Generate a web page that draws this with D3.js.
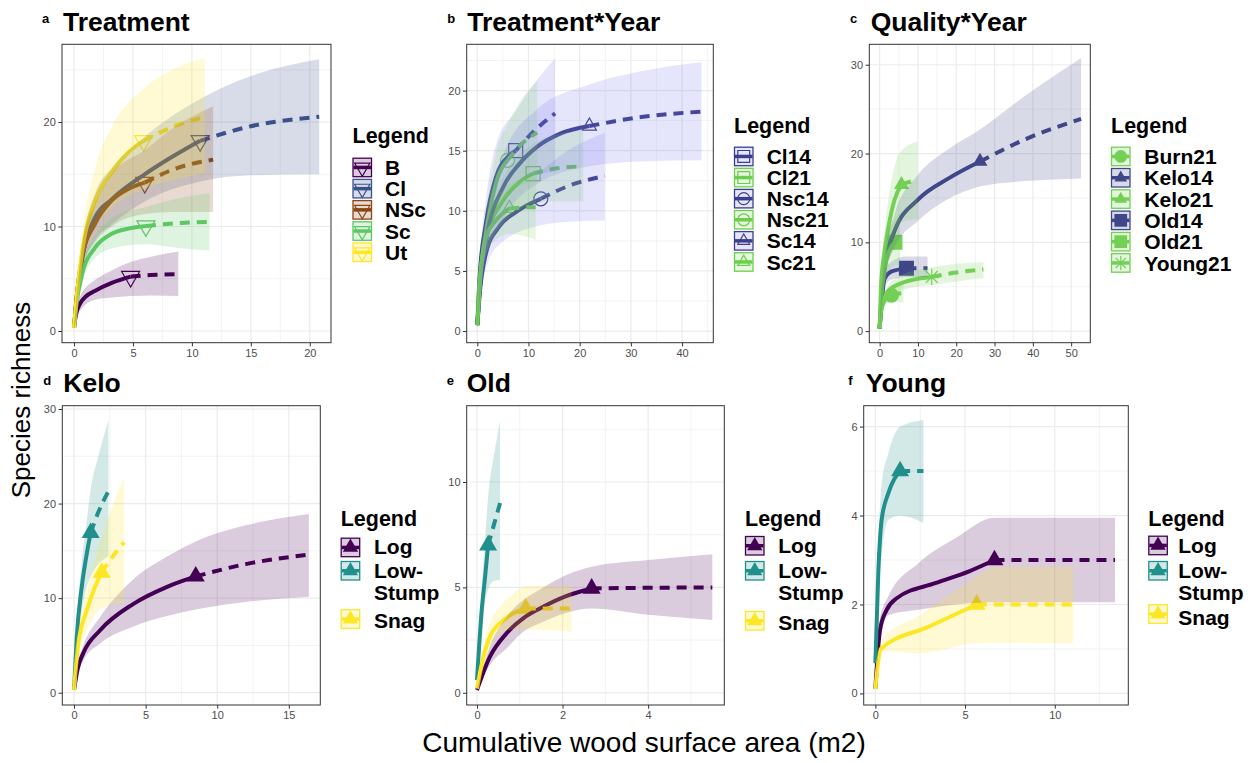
<!DOCTYPE html>
<html>
<head>
<meta charset="utf-8">
<script src="https://cdn.jsdelivr.net/npm/d3@7"></script>
<style>
  body { margin: 0; background: #fff; }
  svg { font-family: "Liberation Sans", Arial, Helvetica, sans-serif; }
</style>
</head>
<body>
<svg id="fig" width="1253" height="763"></svg>
<script>
// ---------- data: [x, y] and ribbons [x, lower, upper] ----------

// a  Treatment
var treatmentNames = ["B", "Cl", "NSc", "Sc", "Ut"];
var treatmentSeries = [
  {interp: [[0,0.3],[0.15,1.5],[0.5,2.6],[1,3.3],[1.8,3.85],[3.2,4.6],[4.8,5.2]],
   extrap: [[4.8,5.2],[6.5,5.35],[8.85,5.45]],
   ci: [[0,0.2,0.4],[0.5,1.9,3.3],[1.8,3.0,4.9],[3.2,3.2,5.8],[4.8,3.35,6.6],[6.5,3.4,7.1],[8.85,3.35,7.6]]},
  {interp: [[0,0.3],[0.2,3],[0.7,7.0],[1.8,10.9],[3.2,12.6],[6,15.0],[7.5,16.1],[10.7,18.2]],
   extrap: [[10.7,18.2],[15,19.6],[20.8,20.5]],
   ci: [[0,0.2,0.4],[0.7,5.8,8.3],[1.8,8.7,13.2],[3.2,10.2,15.6],[6,12.4,18.6],[10.7,14.3,22.2],[15,14.9,24.4],[20.8,15,26]]},
  {interp: [[0,0.3],[0.2,3],[0.7,7.1],[1.8,10.3],[3.2,12.5],[4.6,13.6],[6.0,14.2]],
   extrap: [[6.0,14.2],[8.5,15.5],[11.8,16.4]],
   ci: [[0,0.2,0.4],[0.7,6,8.3],[1.8,8.5,12.2],[3.2,10,15],[6,11.2,17.3],[8.5,11.4,19.5],[11.8,11.4,21.5]]},
  {interp: [[0,0.3],[0.2,2.5],[0.7,5.5],[1.8,8.0],[3.2,9.3],[4.6,9.8],[6.1,10.05]],
   extrap: [[6.1,10.05],[8.5,10.3],[11.5,10.45]],
   ci: [[0,0.2,0.4],[0.7,4.6,6.4],[1.8,7.0,9.2],[3.2,7.9,10.8],[6.1,8.3,11.9],[8.5,8.0,12.6],[11.5,7.7,13.2]]},
  {interp: [[0,0.3],[0.25,3.5],[0.7,7.7],[1.8,12.5],[3.2,15.2],[4.6,17.1],[5.9,18.2]],
   extrap: [[5.9,18.2],[8.5,19.6],[11.1,20.5]],
   ci: [[0,0.2,0.4],[0.7,6.3,9.3],[1.8,9.8,15.6],[3.2,11.8,19.5],[5.9,13.6,23.2],[8.5,14.5,25.1],[11.1,15.1,26.1]]}
];
var treatmentTicksX = [0, 5, 10, 15, 20];
var treatmentTicksY = [0, 10, 20];

// b  Treatment*Year
var treatYearNames = ["Cl14", "Cl21", "Nsc14", "Nsc21", "Sc14", "Sc21"];
var treatYearSeries = [
  {interp: [[0,0.5],[0.4,4.2],[1.7,9.0],[3.65,12.8],[6.25,14.6],[7.5,15.0]],
   extrap: [[7.5,15],[11,16.6],[15.2,18.1]],
   ci: [[0,0.3,0.7],[0.4,3.5,5],[1.7,7.2,11],[3.65,10,15.5],[7.5,12.2,18.3],[11,12.9,20.5],[15.2,13.3,22.7]]},
  {interp: [[0,0.5],[0.4,3.5],[1.7,7.6],[5.1,10.9],[8.3,12.4],[10.9,13.1]],
   extrap: [[10.9,13.1],[15,13.5],[20.7,13.7]],
   ci: [[0,0.3,0.7],[0.4,2.8,4.3],[1.7,6.3,9],[5.1,9,12.8],[10.9,10.6,15.6],[15,10.8,16.3],[20.7,10.8,16.7]]},
  {interp: [[0,0.5],[0.4,2.8],[1.7,6.5],[4.3,8.7],[7.55,9.9],[12.4,11.0]],
   extrap: [[12.4,11],[18,12.1],[24.9,12.9]],
   ci: [[0,0.3,0.7],[0.4,2.2,3.5],[1.7,5.2,7.9],[4.3,7.2,10.3],[12.4,8.8,13.3],[18,9.1,15.1],[24.9,9.2,16.5]]},
  {interp: [[0,0.5],[0.4,3.7],[1.7,8.1],[3.65,12.3],[5.9,14.2]],
   extrap: [[5.9,14.2],[8.5,15.5],[11.7,16.5]],
   ci: [[0,0.3,0.7],[0.4,3,4.5],[1.7,6.5,9.8],[3.65,9.8,14.8],[5.9,11.4,17.2],[8.5,12.1,19.2],[11.7,12.4,20.8]]},
  {interp: [[0,0.5],[0.5,3.5],[1.7,7.5],[5.1,12.0],[8,13.8],[11.6,15.3],[16.1,16.4],[21.9,17.05]],
   extrap: [[21.9,17.05],[32,17.8],[43.8,18.25]],
   ci: [[0,0.3,0.7],[0.5,2.8,4.3],[1.7,5.8,9.3],[5.1,9.3,14.7],[11.6,12.2,18.4],[21.9,13.7,20.5],[32,14.1,21.6],[43.8,14.2,22.35]]},
  {interp: [[0,0.5],[0.4,3.2],[1.7,7.8],[3.65,9.2],[6.25,10.2]],
   extrap: [[6.25,10.2],[8.5,10.27],[11.4,10.3]],
   ci: [[0,0.3,0.7],[0.4,2.6,3.8],[1.7,6.3,9.3],[3.65,7.6,10.9],[6.25,8.1,12.2],[11.4,7.6,12.9]]}
];
var treatYearTicksX = [0, 10, 20, 30, 40];
var treatYearTicksY = [0, 5, 10, 15, 20];

// c  Quality*Year
var qualityNames = ["Burn21", "Kelo14", "Kelo21", "Old14", "Old21", "Young21"];
var qualitySeries = [
  {interp: [[0,0.3],[0.3,2.0],[1,3.2],[2,3.7],[3.1,4.05]],
   extrap: [[3.1,4.05],[4.5,4.2],[6.2,4.3]],
   ci: [[0,0.2,0.4],[0.3,1.5,2.5],[1,2.6,3.8],[3.1,3.3,4.8],[6.2,3.2,5.4]]},
  {interp: [[0,0.3],[0.43,3.5],[1.3,7.2],[3.9,11.3],[10,14.8],[18,17.2],[26.2,19.1]],
   extrap: [[26.2,19.1],[38,21.6],[52.6,23.9]],
   ci: [[0,0.2,0.4],[0.43,2.6,4.4],[1.3,5.8,8.6],[3.9,9.4,13.2],[10,12.4,17.6],[18,14.9,20.5],[26.2,16.3,22.7],[38,16.9,26.5],[52.6,17.2,30.75]]},
  {interp: [[0,0.3],[0.4,5.4],[1.3,9.0],[2.2,11.5],[3.9,14.8],[5.7,16.5]],
   extrap: [[5.7,16.5],[7.7,16.8],[9.9,17.0]],
   ci: [[0,0.2,0.4],[0.4,4,6.8],[1.3,6.8,11.4],[2.2,8.5,14.6],[3.9,11,18.6],[5.7,12.3,20.3],[9.9,12.6,21.35]]},
  {interp: [[0,0.3],[0.42,2.7],[1.3,5.9],[3.0,6.7],[7.0,7.07]],
   extrap: [[7,7.07],[12.5,7.07]],
   ci: [[0,0.2,0.4],[0.42,2.1,3.3],[1.3,5,6.9],[3,5.8,7.8],[7,6.1,8.4],[12.5,6.1,8.4]]},
  {interp: [[0,0.3],[0.4,3.5],[1.3,7.0],[2.5,9.0],[4.0,10.0]],
   extrap: [[4.0,10.0],[5.3,10.3]],
   ci: [[0,0.2,0.4],[0.4,2.6,4.4],[1.3,5.3,8.7],[2.5,6.8,11.2],[4,7.4,12.6],[5.3,7.4,13.3]]},
  {interp: [[0,0.3],[0.4,2.5],[1,3.4],[2.2,4.5],[5.7,5.4],[10,5.9],[13.6,6.1]],
   extrap: [[13.6,6.1],[20,6.6],[27.1,6.95]],
   ci: [[0,0.2,0.4],[0.4,2,3],[1,2.9,3.9],[2.2,3.9,5.1],[5.7,4.6,6.3],[13.6,5.2,7.2],[20,5.6,7.6],[27.1,5.95,7.8]]}
];
var qualityTicksX = [0, 10, 20, 30, 40, 50];
var qualityTicksY = [0, 10, 20, 30];

// d-f  position types
var positionNames = ["Log", "Low-\nStump", "Snag"];

var keloSeries = [
  {interp: [[0,0.3],[0.25,2.5],[0.65,4.2],[1.82,6.6],[4.15,9.4],[6.5,11.2],[8.5,12.3]],
   extrap: [[8.5,12.3],[12,13.6],[16.4,14.6]],
   ci: [[0,0.2,0.4],[0.25,1.9,3.1],[0.65,3.4,5.0],[1.82,5.2,8.0],[4.15,7.0,12.0],[6.5,8.1,14.4],[8.5,8.8,16.0],[12,9.6,17.7],[16.4,10.15,18.9]]},
  {interp: [[0,0.3],[0.19,5.9],[0.54,11.2],[0.89,14.7],[1.16,16.9]],
   extrap: [[1.16,16.9],[1.7,19.1],[2.4,21.3]],
   ci: [[0,0.2,0.4],[0.19,4.6,7.2],[0.54,8.6,13.8],[0.89,11.2,18.2],[1.16,12.3,21.5],[1.7,13.6,25],[2.4,14.4,28.8]]},
  {interp: [[0,0.3],[0.3,5.2],[0.89,8.7],[1.47,11.2],[1.93,12.7]],
   extrap: [[1.93,12.7],[2.7,14.4],[3.5,15.9]],
   ci: [[0,0.2,0.4],[0.3,4.1,6.4],[0.89,6.6,10.8],[1.47,8.3,14.2],[1.93,8.9,16.5],[2.7,9.3,19.8],[3.5,9.45,22.8]]}
];
var keloTicksX = [0, 5, 10, 15];
var keloTicksY = [0, 10, 20, 30];

var oldSeries = [
  {interp: [[0,0.13],[0.3,1.7],[0.69,2.82],[1.08,3.53],[1.47,4.0],[2.1,4.6],[2.68,4.95]],
   extrap: [[2.68,4.95],[4,4.98],[5.5,5.0]],
   ci: [[0,0.1,0.2],[0.3,1.3,2.2],[0.69,2.1,3.6],[1.08,2.9,4.4],[1.47,3.3,4.9],[2.1,3.8,5.6],[2.68,4.0,5.98],[4,3.7,6.3],[5.5,3.45,6.57]]},
  {interp: [[0,0.6],[0.11,3.9],[0.19,5.5],[0.26,7.0]],
   extrap: [[0.26,7.0],[0.4,8.0],[0.54,9.0]],
   ci: [[0,0.5,0.8],[0.11,2.7,5.0],[0.19,4.3,7.3],[0.26,4.9,9.3],[0.4,5.3,11.3],[0.54,5.35,12.9]]},
  {interp: [[0,0.2],[0.15,1.7],[0.3,2.66],[0.54,3.3],[0.85,3.77],[1.14,4.0]],
   extrap: [[1.14,4.0],[1.7,4.0],[2.21,4.0]],
   ci: [[0,0.1,0.3],[0.15,1.2,2.3],[0.3,2.1,3.3],[0.54,2.8,4.1],[0.85,3.0,4.7],[1.14,3.0,5.06],[2.21,2.9,5.06]]}
];
var oldTicksX = [0, 2, 4];
var oldTicksY = [0, 5, 10];

var youngSeries = [
  {interp: [[0,0.11],[0.26,1.43],[0.63,1.88],[1.19,2.14],[3.33,2.48],[5.19,2.74],[6.64,3.0]],
   extrap: [[6.64,3.0],[10,3.0],[13.36,3.0]],
   ci: [[0,0.1,0.12],[0.26,1.2,1.7],[0.72,1.76,2.18],[2.4,1.88,2.93],[4.5,2.0,3.5],[6.64,2.05,3.95],[13.36,2.05,3.95]]},
  {interp: [[0,0.68],[0.17,2.78],[0.35,3.9],[0.72,4.5],[1.38,5.0]],
   extrap: [[1.38,5.0],[2.68,5.0]],
   ci: [[0,0.6,0.75],[0.17,2.2,3.4],[0.35,3.1,4.7],[0.72,3.9,5.4],[1.38,4.0,6.0],[2.68,3.83,6.15]]},
  {interp: [[0,0.1],[0.3,1.0],[2.97,1.5],[5.65,2.0]],
   extrap: [[5.65,2.0],[11.04,2.0]],
   ci: [[0,0.1,0.12],[0.35,0.95,1.2],[2.4,0.9,1.74],[5.56,1.13,2.6],[6.67,1.14,2.85],[11.04,1.13,2.85]]}
];
var youngTicksX = [0, 5, 10];
var youngTicksY = [0, 2, 4, 6];

// ---------- drawing ----------
var svg = d3.select("#fig");
var defs = svg.append("defs");

var viridis5 = ["#440154", "#3B528B", "#8B4513", "#5DC863", "#FDE725"];
var posCols = ["#440154", "#21908C", "#FDE725"];

function minorTicks(ticks, domain) {
  var step = ticks[1] - ticks[0];
  return d3.range(ticks[0] - step / 2, domain[1], step).filter(function(d) { return d > domain[0]; });
}

function shapeNode(sel, kind, cx, cy, size, color, filled) {
  if (kind === "star") {
    var r = size * 0.55, k = r * 0.72;
    return sel.append("path")
      .attr("d", "M" + (-r) + ",0H" + r + "M0," + (-r) + "V" + r +
                 "M" + (-k) + "," + (-k) + "L" + k + "," + k + "M" + (-k) + "," + k + "L" + k + "," + (-k))
      .attr("transform", "translate(" + cx + "," + cy + ")")
      .attr("fill", "none").attr("stroke", color).attr("stroke-width", 1.2);
  }
  var type = {tri: d3.symbolTriangle, triDown: d3.symbolTriangle, square: d3.symbolSquare, circle: d3.symbolCircle}[kind];
  var area = {tri: size * size * 0.433, triDown: size * size * 0.433, square: size * size, circle: Math.PI * size * size / 4}[kind];
  return sel.append("path")
    .attr("d", d3.symbol(type, area)())
    .attr("transform", "translate(" + cx + "," + cy + ")" + (kind === "triDown" ? " rotate(180)" : ""))
    .attr("fill", filled ? color : "none")
    .attr("stroke", color)
    .attr("stroke-width", filled ? 0 : 1.2);
}

function drawPanel(p) {
  var x0 = p.box[0], x1 = p.box[1], y0 = p.box[2], y1 = p.box[3];
  var x = d3.scaleLinear().domain(p.xDomain).range([x0, x1]);
  var y = d3.scaleLinear().domain(p.yDomain).range([y1, y0]);
  var g = svg.append("g");

  g.append("rect").attr("x", x0).attr("y", y0).attr("width", x1 - x0).attr("height", y1 - y0).attr("fill", "#fff");

  // grid
  var grid = g.append("g").attr("stroke", "#EBEBEB");
  grid.selectAll(".vx").data(minorTicks(p.xTicks, p.xDomain)).enter().append("line")
    .attr("x1", x).attr("x2", x).attr("y1", y0).attr("y2", y1).attr("stroke-width", 0.6);
  grid.selectAll(".hy").data(minorTicks(p.yTicks, p.yDomain)).enter().append("line")
    .attr("y1", y).attr("y2", y).attr("x1", x0).attr("x2", x1).attr("stroke-width", 0.6);
  grid.selectAll(".vX").data(p.xTicks).enter().append("line")
    .attr("x1", x).attr("x2", x).attr("y1", y0).attr("y2", y1).attr("stroke-width", 1.2);
  grid.selectAll(".hY").data(p.yTicks).enter().append("line")
    .attr("y1", y).attr("y2", y).attr("x1", x0).attr("x2", x1).attr("stroke-width", 1.2);

  var clipId = "clip-" + p.tag;
  defs.append("clipPath").attr("id", clipId).append("rect")
    .attr("x", x0).attr("y", y0).attr("width", x1 - x0).attr("height", y1 - y0);
  var plot = g.append("g").attr("clip-path", "url(#" + clipId + ")");

  var curve = d3.curveMonotoneX;
  var line = d3.line().x(function(d) { return x(d[0]); }).y(function(d) { return y(d[1]); }).curve(curve);
  var band = d3.area().x(function(d) { return x(d[0]); })
    .y0(function(d) { return y(d[1]); }).y1(function(d) { return y(d[2]); }).curve(curve);

  // observed points
  p.series.forEach(function(s, i) {
    var o = s.interp[s.interp.length - 1];
    shapeNode(plot, p.shapes[i], x(o[0]), y(o[1]), p.shapeSize, p.colors[i], p.filled);
  });
  // curves
  p.series.forEach(function(s, i) {
    plot.append("path").attr("d", line(s.interp)).attr("fill", "none")
      .attr("stroke", p.colors[i]).attr("stroke-width", 4);
    plot.append("path").attr("d", line(s.extrap)).attr("fill", "none")
      .attr("stroke", p.colors[i]).attr("stroke-width", 4).attr("stroke-dasharray", "10,7");
  });
  // confidence bands on top
  p.series.forEach(function(s, i) {
    plot.append("path").attr("d", band(s.ci))
      .attr("fill", p.fills[i]).attr("fill-opacity", p.alpha);
  });

  g.append("rect").attr("x", x0).attr("y", y0).attr("width", x1 - x0).attr("height", y1 - y0)
    .attr("fill", "none").attr("stroke", "#333333").attr("stroke-width", 1);

  // axes
  var fmt = d3.format("d");
  var ax = g.append("g").attr("transform", "translate(0," + y1 + ")")
    .call(d3.axisBottom(x).tickValues(p.xTicks).tickFormat(fmt).tickSize(3.7).tickPadding(2.5));
  var ay = g.append("g").attr("transform", "translate(" + x0 + ",0)")
    .call(d3.axisLeft(y).tickValues(p.yTicks).tickFormat(fmt).tickSize(3.7).tickPadding(2.5));
  [ax, ay].forEach(function(a) {
    a.select(".domain").remove();
    a.selectAll(".tick line").attr("stroke", "#333333");
    a.selectAll(".tick text").attr("fill", "#4D4D4D").style("font-size", "11px")
      .style("font-family", "'Liberation Sans', Arial, sans-serif");
  });

  // title and tag
  g.append("text").attr("x", p.tagPos[0]).attr("y", p.tagPos[1]).text(p.tag)
    .style("font-size", "13px").style("font-weight", "bold");
  g.append("text").attr("x", p.titlePos[0]).attr("y", p.titlePos[1]).text(p.title)
    .style("font-size", "26.5px").style("font-weight", "bold");

  // legend
  var L = p.legend;
  g.append("text").attr("x", L.x).attr("y", L.titleY).text("Legend")
    .style("font-size", "21.5px").style("font-weight", "bold");
  p.names.forEach(function(name, i) {
    var ky = L.keys[i], ks = 19.5;
    var k = g.append("g");
    k.append("rect").attr("x", L.x + 0.5).attr("y", ky + 0.5).attr("width", ks - 1).attr("height", ks - 1)
      .attr("fill", "#fff");
    k.append("rect").attr("x", L.x + 0.5).attr("y", ky + 0.5).attr("width", ks - 1).attr("height", ks - 1)
      .attr("fill", p.fills[i]).attr("fill-opacity", p.alpha)
      .attr("stroke", p.colors[i]).attr("stroke-width", 1.3);
    k.append("line").attr("x1", L.x + 1).attr("x2", L.x + ks - 1).attr("y1", ky + ks / 2).attr("y2", ky + ks / 2)
      .attr("stroke", p.colors[i]).attr("stroke-width", 3.5);
    shapeNode(k, p.shapes[i], L.x + ks / 2, ky + ks / 2, p.shapeSize * 0.85, p.colors[i], p.filled);
    name.split("\n").forEach(function(part, j) {
      g.append("text").attr("x", L.labelX).attr("y", L.labelY[i] + j * 22).text(part)
        .style("font-size", "21px").style("font-weight", "bold");
    });
  });
}

var c14b = "#3E3E8E", c21b = "#6BCF4D";
var c14c = "#404788", c21c = "#73D055";

var panels = [
  {tag: "a", title: "Treatment", tagPos: [42, 23], titlePos: [63, 30.7],
   box: [62, 331, 44.3, 342.7], xDomain: [-1.02, 21.8], yDomain: [-1.12, 27.44],
   xTicks: treatmentTicksX, yTicks: treatmentTicksY,
   series: treatmentSeries, names: treatmentNames,
   colors: viridis5, fills: viridis5, alpha: 0.2,
   shapes: ["triDown", "triDown", "triDown", "triDown", "triDown"], shapeSize: 18, filled: false,
   legend: {x: 352.5, titleY: 143, labelX: 385,
            keys: [157.7, 178.9, 200.1, 221.3, 242.5], labelY: [175, 196.2, 217.4, 238.6, 259.8]}},
  {tag: "b", title: "Treatment*Year", tagPos: [447.3, 23], titlePos: [467.3, 30.7],
   box: [466.7, 713.3, 44.3, 342.7], xDomain: [-2.07, 46.1], yDomain: [-0.97, 23.85],
   xTicks: treatYearTicksX, yTicks: treatYearTicksY,
   series: treatYearSeries, names: treatYearNames,
   colors: [c14b, c21b, c14b, c21b, c14b, c21b],
   fills: ["#6E6EF0", "#7AD151", "#6E6EF0", "#7AD151", "#6E6EF0", "#7AD151"], alpha: 0.18,
   shapes: ["square", "square", "circle", "circle", "tri", "tri"], shapeSize: 14, filled: false,
   legend: {x: 734, titleY: 132.7, labelX: 766.7,
            keys: [146.7, 167.8, 188.9, 210, 231.1, 252.2], labelY: [164, 185.1, 206.2, 227.3, 248.4, 269.5]}},
  {tag: "c", title: "Quality*Year", tagPos: [850, 23], titlePos: [870.7, 30.7],
   box: [869.3, 1090.3, 44.3, 342.7], xDomain: [-2.7, 55.0], yDomain: [-1.3, 32.3],
   xTicks: qualityTicksX, yTicks: qualityTicksY,
   series: qualitySeries, names: qualityNames,
   colors: [c21c, c14c, c21c, c14c, c21c, c21c], fills: [c21c, c14c, c21c, c14c, c21c, c21c], alpha: 0.2,
   shapes: ["circle", "tri", "tri", "square", "square", "star"], shapeSize: 15, filled: true,
   legend: {x: 1111, titleY: 132.7, labelX: 1144.3,
            keys: [146.7, 168, 189.3, 210.6, 231.9, 253.2], labelY: [164, 185.3, 206.6, 227.9, 249.2, 270.5]}},
  {tag: "d", title: "Kelo", tagPos: [43.3, 385], titlePos: [63.3, 392.3],
   box: [62.3, 320.3, 405.7, 705], xDomain: [-0.82, 17.2], yDomain: [-1.3, 30.35],
   xTicks: keloTicksX, yTicks: keloTicksY,
   series: keloSeries, names: positionNames,
   colors: posCols, fills: posCols, alpha: 0.2,
   shapes: ["tri", "tri", "tri"], shapeSize: 18, filled: true,
   legend: {x: 340.7, titleY: 526, labelX: 374,
            keys: [537.7, 561, 609.3], labelY: [554, 578, 628]}},
  {tag: "e", title: "Old", tagPos: [446.7, 385], titlePos: [466.7, 392.3],
   box: [466.7, 724.3, 405.7, 705], xDomain: [-0.24, 5.78], yDomain: [-0.58, 13.62],
   xTicks: oldTicksX, yTicks: oldTicksY,
   series: oldSeries, names: positionNames,
   colors: posCols, fills: posCols, alpha: 0.2,
   shapes: ["tri", "tri", "tri"], shapeSize: 18, filled: true,
   legend: {x: 745, titleY: 526, labelX: 778.3,
            keys: [536, 561, 611], labelY: [553, 578, 630]}},
  {tag: "f", title: "Young", tagPos: [848.3, 385], titlePos: [865.7, 392.3],
   box: [863.7, 1128.3, 405.7, 705], xDomain: [-0.65, 14.1], yDomain: [-0.26, 6.47],
   xTicks: youngTicksX, yTicks: youngTicksY,
   series: youngSeries, names: positionNames,
   colors: posCols, fills: posCols, alpha: 0.2,
   shapes: ["tri", "tri", "tri"], shapeSize: 18, filled: true,
   legend: {x: 1148.3, titleY: 526, labelX: 1178.3,
            keys: [535.7, 561, 604.3], labelY: [553, 578, 625]}}
];

panels.forEach(drawPanel);

// shared axis titles
svg.append("text").attr("transform", "translate(30,400) rotate(-90)")
  .attr("text-anchor", "middle").text("Species richness").style("font-size", "26px");
svg.append("text").attr("x", 644).attr("y", 752)
  .attr("text-anchor", "middle").text("Cumulative wood surface area (m2)").style("font-size", "28px");
</script>
</body>
</html>
